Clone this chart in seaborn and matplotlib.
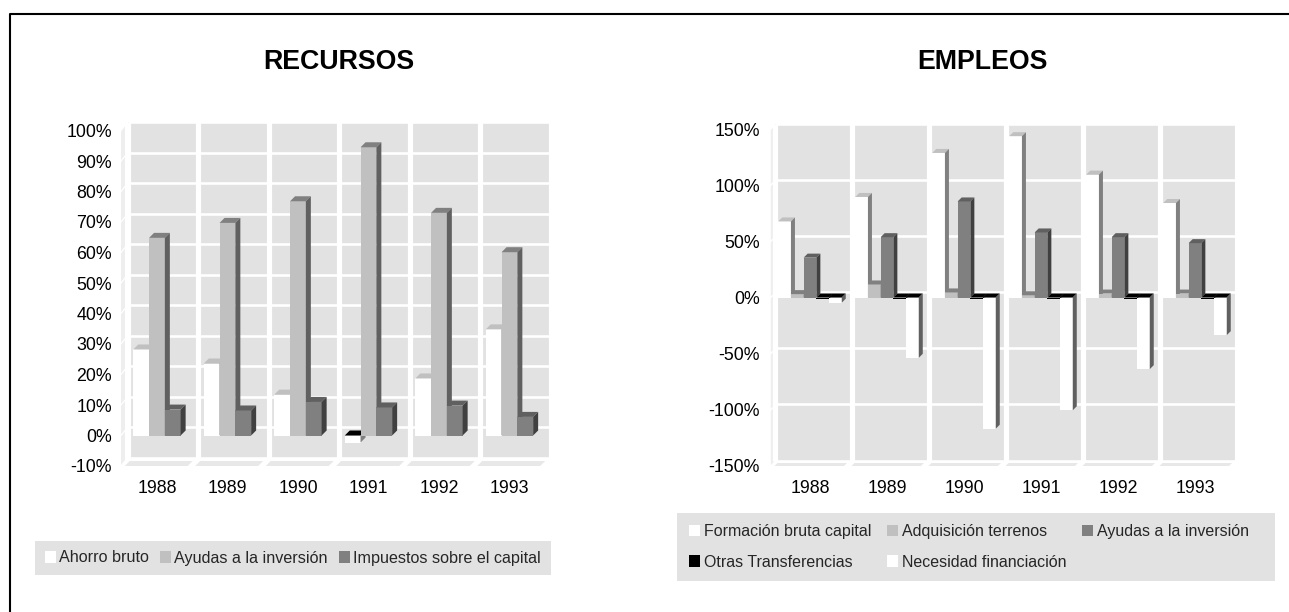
import numpy as np
import pandas as pd
import matplotlib
matplotlib.use('Agg')
import matplotlib.pyplot as plt
import seaborn as sns
from matplotlib.patches import Polygon, Rectangle
from matplotlib.transforms import IdentityTransform, offset_copy

years = ['1988', '1989', '1990', '1991', '1992', '1993']

# left chart
rec_names = ['Ahorro bruto', 'Ayudas a la inversión', 'Impuestos sobre el capital']
ahorro = [28.2, 23.6, 13.4, -2.3, 18.7, 34.8]
ayudas = [64.8, 69.7, 76.8, 94.5, 73.0, 60.1]
impuestos = [8.5, 8.2, 11.0, 9.2, 9.8, 6.1]

# right chart
emp_names = ['Formación bruta capital', 'Adquisición terrenos', 'Ayudas a la inversión',
             'Otras Transferencias', 'Necesidad financiación']
formacion = [67.7, 89.5, 128.7, 143.6, 109.4, 84.1]
terrenos = [3.0, 11.6, 4.5, 2.0, 3.5, 3.5]
ayudas_inv = [35.5, 53.7, 85.5, 57.9, 53.7, 48.4]
otras = [-1.0, -1.0, -1.0, -1.0, -1.0, -1.0]
necesidad = [-4.6, -53.7, -116.8, -100.4, -63.8, -33.5]

rec_ticks = [-10, 0, 10, 20, 30, 40, 50, 60, 70, 80, 90, 100]
emp_ticks = [-150, -100, -50, 0, 50, 100, 150]

# front, top, side colour for each series
rec_colors = [('#ffffff', '#c0c0c0', '#808080'),
              ('#c0c0c0', '#808080', '#606060'),
              ('#808080', '#606060', '#404040')]
emp_colors = [('#ffffff', '#c0c0c0', '#808080'),
              ('#c0c0c0', '#808080', '#808080'),
              ('#808080', '#606060', '#404040'),
              ('#000000', '#000000', '#000000'),
              ('#ffffff', '#c0c0c0', '#606060')]

WALL = '#e2e2e2'
W, H = 1289, 612

sns.set_theme(style='white')
plt.rcParams['font.family'] = ['Liberation Sans', 'DejaVu Sans']

fig = plt.figure(figsize=(W / 100, H / 100), dpi=100)


def box(x0, x1, top, bottom):
    return [x0 / W, 1 - bottom / H, (x1 - x0) / W, (bottom - top) / H]


def face(ax, pts, color, z):
    ax.add_patch(Polygon(pts, closed=True, facecolor=color, edgecolor='none', lw=0,
                         transform=IdentityTransform(), zorder=z, clip_on=False))


def chart(rect, names, series, colors, ticks, width, depth, wall_dx, wall_dy, floor_d, band_w, band_d, ypad):
    ax = fig.add_axes(rect)
    ax.patch.set_alpha(0)
    df = pd.DataFrame({'year': years * len(names),
                       'value': np.concatenate(series),
                       'serie': np.repeat(names, len(years))})
    sns.barplot(data=df, x='year', y='value', hue='serie', hue_order=names,
                palette=[c[0] for c in colors], width=width, gap=0, saturation=1,
                legend=False, linewidth=0, ax=ax)
    ax.set_xlim(-0.5, 5.5)
    ax.set_ylim(ticks[0], ticks[-1])
    ax.set_yticks(ticks)
    ax.set_yticklabels(['%d%%' % t for t in ticks])
    ax.set_xlabel('')
    ax.set_ylabel('')
    ax.grid(False)
    sns.despine(ax=ax, left=True, bottom=True)
    ax.tick_params(axis='y', length=0, pad=ypad, labelsize=12.8, labelcolor='black')
    ax.tick_params(axis='x', length=0, pad=10, labelsize=12.8, labelcolor='black')

    # back wall, same scale as the axes but pushed back
    back = offset_copy(ax.transData, fig=fig, x=wall_dx, y=wall_dy, units='dots')
    ax.add_patch(Rectangle((-0.5, ticks[0]), 6, ticks[-1] - ticks[0], facecolor=WALL, edgecolor='none',
                           transform=back, zorder=0.5, clip_on=False))
    for t in ticks:
        ax.plot([-0.5, 5.5], [t, t], color='white', lw=1.9, solid_capstyle='butt',
                transform=back, zorder=1, clip_on=False)
    for i in range(7):
        ax.plot([i - 0.5, i - 0.5], [ticks[0], ticks[-1]], color='white', lw=3.7, solid_capstyle='butt',
                transform=back, zorder=1, clip_on=False)

    # floor pieces
    for i in range(6):
        xa, y0 = ax.transData.transform((i - 0.5, ticks[0]))
        xb, _ = ax.transData.transform((i + 0.5, ticks[0]))
        face(ax, [(xa + 3, y0), (xb - 4.5, y0), (xb - 4.5 + floor_d, y0 + floor_d),
                  (xa + 3 + floor_d, y0 + floor_d)], '#e8e8e8', 0.5)

    # side wall pieces
    xa = ax.transData.transform((-0.5, 0))[0] - 0.7
    for a, b in zip(ticks[:-1], ticks[1:]):
        ya = ax.transData.transform((0, a))[1]
        yb = ax.transData.transform((0, b))[1]
        face(ax, [(xa, ya + 1), (xa + band_w, ya + 1 + band_d), (xa + band_w, yb - 1 + band_d),
                  (xa, yb - 1)], '#eeeeee', 0.5)

    # 3d faces of the bars
    for j, cont in enumerate(ax.containers):
        for p in cont:
            p.set_zorder(3 + j)
            bb = p.get_window_extent()
            neg = p.get_height() < 0
            top = '#000000' if neg else colors[j][1]
            face(ax, [(bb.x0, bb.y1), (bb.x1, bb.y1), (bb.x1 + depth, bb.y1 + depth), (bb.x0 + depth, bb.y1 + depth)],
                 top, 3 + j)
            face(ax, [(bb.x1, bb.y0), (bb.x1 + depth, bb.y0 + depth), (bb.x1 + depth, bb.y1 + depth), (bb.x1, bb.y1)],
                 colors[j][2], 3 + j)
    return ax


chart(box(121.7, 544.7, 130.5, 466), rec_names, [ahorro, ayudas, impuestos], rec_colors, rec_ticks,
      0.672, 5, 5.8, 8.5, 5, 4, 5, 7)
chart(box(771.5, 1233.5, 129, 466), emp_names, [formacion, terrenos, ayudas_inv, otras, necesidad],
      emp_colors, emp_ticks, 0.825, 4, 3.2, 5.5, 3, 3, 3, 8.3)

fig.text(339 / W, 1 - 62 / H, 'RECURSOS', ha='center', va='center', fontsize=19.3, fontweight='bold', color='black')
fig.text(982 / W, 1 - 62 / H, 'EMPLEOS', ha='center', va='center', fontsize=19.3, fontweight='bold', color='black')


def legend(names, colors, order, x0, x1, top, bottom, pad_left, fs, columnspacing, labelspacing, textpad):
    fig.add_artist(Rectangle((x0, H - bottom), x1 - x0, bottom - top, facecolor=WALL, edgecolor='none',
                             transform=IdentityTransform(), zorder=1))
    handles = [Rectangle((0, 0), 1, 1, facecolor=colors[k][0], edgecolor='none') for k in order]
    labels = [names[k] for k in order]
    leg = fig.legend(handles, labels, ncol=3, loc='center left', bbox_to_anchor=(x0 + pad_left, H - (top + bottom) / 2),
                     bbox_transform=IdentityTransform(), frameon=False, fontsize=fs,
                     handlelength=0.7, handleheight=0.7, handletextpad=textpad,
                     columnspacing=columnspacing, labelspacing=labelspacing, borderaxespad=0, borderpad=0)
    leg.set_zorder(2)


# matplotlib fills columns first, the reference reads along the rows
legend(rec_names, rec_colors, [0, 1, 2], 35, 551, 541, 575, 10, 11.6, 0.72, 0.5, 0.15)
legend(emp_names, emp_colors, [0, 3, 1, 4, 2], 677, 1275, 513, 581, 12, 11.55, 0.95, 0.95, 0.25)

# outer frame
fig.add_artist(plt.Line2D([10 / W, 10 / W, 1], [0, 1 - 14 / H, 1 - 14 / H], color='black', lw=1.5))

fig.savefig('out.png', dpi=100)
